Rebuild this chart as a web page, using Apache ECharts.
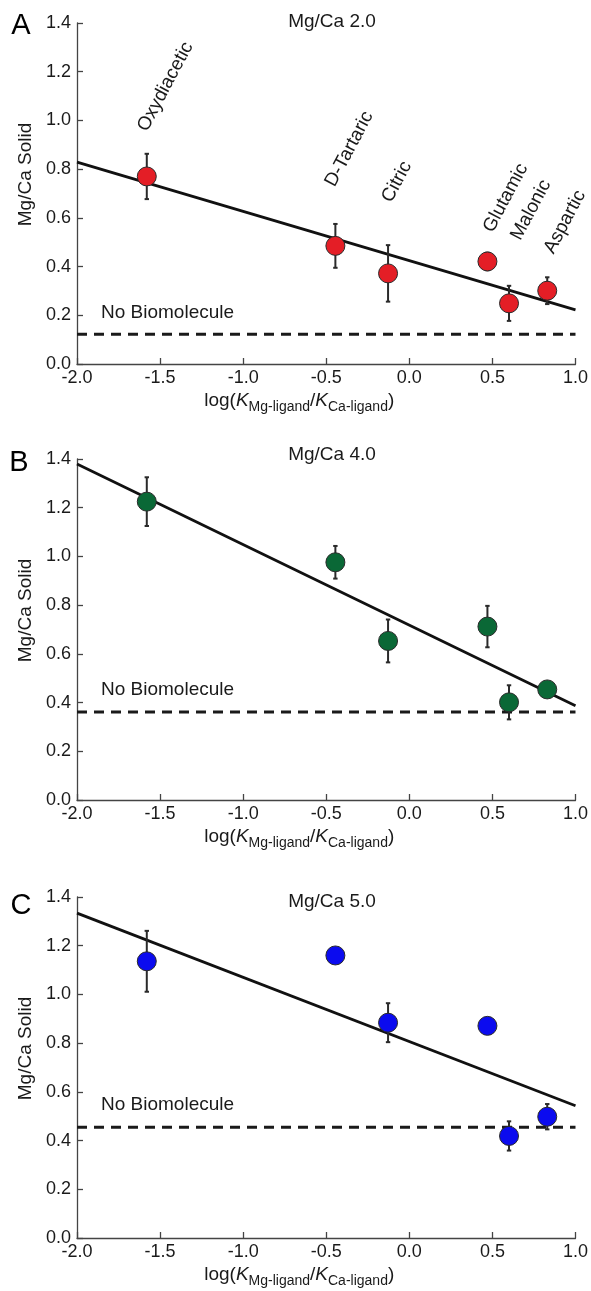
<!DOCTYPE html>
<html>
<head>
<meta charset="utf-8">
<script src="https://cdn.jsdelivr.net/npm/echarts@6/dist/echarts.min.js"></script>
<style>
html,body{margin:0;padding:0;background:#fff;}
#main{width:591px;height:1291px;}
</style>
</head>
<body>
<div id="main"></div>
<script>
// ---------- data ----------
const ligands = ['Oxydiacetic', 'D-Tartaric', 'Citric', 'Glutamic', 'Malonic', 'Aspartic'];
const logK = [-1.58, -0.445, -0.128, 0.47, 0.60, 0.83];

const mgA = [0.770, 0.485, 0.372, 0.421, 0.249, 0.301];
const errA = [0.093, 0.090, 0.116, 0.036, 0.072, 0.055];
const mgB = [1.225, 0.976, 0.653, 0.712, 0.401, 0.454];
const errB = [0.100, 0.067, 0.088, 0.085, 0.070, 0.020];
const mgC = [1.136, 1.160, 0.884, 0.871, 0.419, 0.498];
const errC = [0.125, 0.020, 0.080, 0.020, 0.060, 0.052];

const fitX = [-2.0, 1.0];
const fitA = [0.829, 0.222];
const fitB = [1.379, 0.387];
const fitC = [1.334, 0.543];

const noBioA = 0.122;
const noBioB = 0.361;
const noBioC = 0.455;

const panelTitles = ['Mg/Ca 2.0', 'Mg/Ca 4.0', 'Mg/Ca 5.0'];
const panelLetters = ['A', 'B', 'C'];
const xTicks = { min: -2.0, max: 1.0, step: 0.5 };
const yTicks = { min: 0.0, max: 1.4, step: 0.2 };

// ---------- layout / style ----------
const FONT = "'Liberation Sans', Arial, Helvetica, sans-serif";
const TXT = '#1a1a1a';
const AX = '#444';
const colors = ['#e41e26', '#0a6836', '#0b0bef'];
const grids = [
  { left: 77, right: 14, top: 23, height: 341 },
  { left: 77, right: 14, top: 459, height: 341 },
  { left: 77, right: 14, top: 897, height: 341 }
];
const labelOffsets = [[4, -42], [3, -56], [7, -68], [9, -26], [15, -60], [10, -34]];
const titlePos = [[332, 22], [332, 455], [332, 902]];
const letterPos = [[21, 26], [19, 463], [21, 906]];

const panels = [
  { mg: mgA, err: errA, fit: fitA, base: noBioA },
  { mg: mgB, err: errB, fit: fitB, base: noBioB },
  { mg: mgC, err: errC, fit: fitC, base: noBioC }
];

const chart = echarts.init(document.getElementById('main'), null, { renderer: 'canvas' });

const xAxes = [], yAxes = [], series = [];
const xName = '{n|log(}{i|K}{s|Mg-ligand}{n|/}{i|K}{s|Ca-ligand}{n|)}';
const xNameRich = {
  n: { fontSize: 19, fontFamily: FONT, color: TXT, verticalAlign: 'top', lineHeight: 20 },
  i: { fontSize: 19, fontFamily: FONT, color: TXT, fontStyle: 'italic', verticalAlign: 'top', lineHeight: 20 },
  s: { fontSize: 14, fontFamily: FONT, color: TXT, verticalAlign: 'top', lineHeight: 15, padding: [9, 0, 0, 0] }
};

panels.forEach((p, gi) => {
  xAxes.push({
    type: 'value', gridIndex: gi, min: xTicks.min, max: xTicks.max, interval: xTicks.step,
    axisLine: { show: true, onZero: false, lineStyle: { color: AX, width: 1.3 } },
    axisTick: { show: true, inside: true, length: 6, lineStyle: { color: AX, width: 1.3 } },
    axisLabel: { fontSize: 18, fontFamily: FONT, color: TXT, margin: 5, formatter: v => v.toFixed(1) },
    splitLine: { show: false },
    name: xName, nameLocation: 'middle', nameGap: 27,
    nameTextStyle: { rich: xNameRich, padding: [0, 54, 0, 0] }
  });
  yAxes.push({
    type: 'value', gridIndex: gi, min: yTicks.min, max: yTicks.max, interval: yTicks.step,
    axisLine: { show: true, onZero: false, lineStyle: { color: AX, width: 1.3 } },
    axisTick: { show: true, inside: true, length: 6, lineStyle: { color: AX, width: 1.3 } },
    axisLabel: { fontSize: 18, fontFamily: FONT, color: TXT, margin: 6, formatter: v => v.toFixed(1) },
    splitLine: { show: false },
    name: 'Mg/Ca Solid', nameLocation: 'middle', nameGap: 41,
    nameTextStyle: { fontSize: 19, fontFamily: FONT, color: TXT, padding: [0, 0, 0, 38] }
  });

  // fit line
  series.push({
    type: 'line', xAxisIndex: gi, yAxisIndex: gi, z: 2,
    data: fitX.map((x, k) => [x, p.fit[k]]),
    symbol: 'none', silent: true,
    lineStyle: { color: '#111', width: 2.8 }
  });

  // no-biomolecule dashed baseline with its text
  series.push({
    type: 'custom', xAxisIndex: gi, yAxisIndex: gi, z: 2, silent: true,
    data: [[xTicks.min, p.base]],
    renderItem: (params, api) => {
      const a = api.coord([xTicks.min, api.value(1)]);
      const b = api.coord([xTicks.max, api.value(1)]);
      return {
        type: 'group', children: [
          { type: 'line', shape: { x1: a[0], y1: a[1], x2: b[0], y2: b[1] },
            style: { stroke: '#1a1a1a', lineWidth: 3, lineDash: [10, 7] } },
          { type: 'text', x: a[0] + 24, y: a[1] - 22,
            style: { text: 'No Biomolecule', fontSize: 19, fontFamily: FONT, fill: TXT, align: 'left', verticalAlign: 'middle' } }
        ]
      };
    }
  });

  // error bars
  series.push({
    type: 'custom', xAxisIndex: gi, yAxisIndex: gi, z: 3, silent: true,
    data: logK.map((x, k) => [x, p.mg[k] - p.err[k], p.mg[k] + p.err[k]]),
    renderItem: (params, api) => {
      const top = api.coord([api.value(0), api.value(2)]);
      const bot = api.coord([api.value(0), api.value(1)]);
      const c = 2.2;
      const st = { stroke: '#2a2a2a', lineWidth: 2 };
      return {
        type: 'group', children: [
          { type: 'line', shape: { x1: top[0], y1: top[1], x2: bot[0], y2: bot[1] }, style: st },
          { type: 'line', shape: { x1: top[0] - c, y1: top[1], x2: top[0] + c, y2: top[1] }, style: st },
          { type: 'line', shape: { x1: bot[0] - c, y1: bot[1], x2: bot[0] + c, y2: bot[1] }, style: st }
        ]
      };
    }
  });

  // points
  series.push({
    type: 'scatter', xAxisIndex: gi, yAxisIndex: gi, z: 4,
    data: logK.map((x, k) => [x, p.mg[k]]),
    symbol: 'circle', symbolSize: 19,
    itemStyle: { color: colors[gi], borderColor: '#2a2a2a', borderWidth: 1, opacity: 1 }
  });
});

// rotated ligand labels (panel A)
series.push({
  type: 'custom', xAxisIndex: 0, yAxisIndex: 0, z: 5, silent: true,
  data: logK.map((x, k) => [x, mgA[k]]),
  renderItem: (params, api) => {
    const pt = api.coord([api.value(0), api.value(1)]);
    const off = labelOffsets[params.dataIndex];
    return {
      type: 'text', x: pt[0] + off[0], y: pt[1] + off[1], rotation: 62 * Math.PI / 180,
      style: { text: ligands[params.dataIndex], fontSize: 19, fontFamily: FONT, fill: TXT, align: 'left', verticalAlign: 'bottom' }
    };
  }
});

const graphics = [];
panelTitles.forEach((t, i) => {
  graphics.push({ type: 'text', x: titlePos[i][0], y: titlePos[i][1], silent: true,
    style: { text: t, fontSize: 19, fontFamily: FONT, fill: TXT, align: 'center', verticalAlign: 'middle' } });
  graphics.push({ type: 'text', x: letterPos[i][0], y: letterPos[i][1], silent: true,
    style: { text: panelLetters[i], fontSize: 29, fontFamily: FONT, fill: '#000', align: 'center', verticalAlign: 'middle' } });
});

chart.setOption({
  animation: false,
  backgroundColor: '#fff',
  grid: grids,
  xAxis: xAxes,
  yAxis: yAxes,
  series: series,
  graphic: graphics
});
</script>
</body>
</html>
